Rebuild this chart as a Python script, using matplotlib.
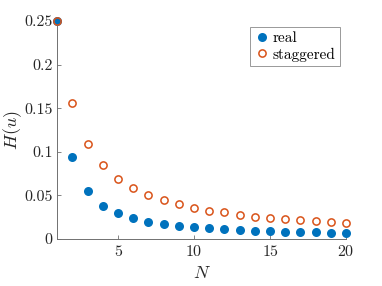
import numpy as np
import matplotlib
matplotlib.use('Agg')
import matplotlib.pyplot as plt

plt.rcParams['font.family'] = 'serif'
plt.rcParams['font.serif'] = ['cmr10', 'DejaVu Serif']
plt.rcParams['mathtext.fontset'] = 'cm'
plt.rcParams['axes.formatter.use_mathtext'] = True

N = np.arange(1, 21)
real = [0.25, 0.0937, 0.0547, 0.0382, 0.0295, 0.0237, 0.0199, 0.0172, 0.0149, 0.0134,
        0.0123, 0.0111, 0.0103, 0.0095, 0.0091, 0.0085, 0.0080, 0.0076, 0.0071, 0.0066]
staggered = [0.25, 0.156, 0.109, 0.0845, 0.0688, 0.0581, 0.0505, 0.0444, 0.0398, 0.0359,
             0.0326, 0.0305, 0.0279, 0.0257, 0.0241, 0.0227, 0.0214, 0.0203, 0.0195, 0.0187]

fig = plt.figure(figsize=(3.82, 2.86), dpi=100)
ax = fig.add_axes([0.15, 0.164, 0.756, 0.763])

ax.plot(N, real, 'o', color='#0072BD', markersize=6.5, markeredgewidth=0,
        label='real', clip_on=False, zorder=3)
ax.plot(N, staggered, 'o', markerfacecolor='none', markeredgecolor='#D95319',
        markersize=5.2, markeredgewidth=1.1, label='staggered', clip_on=False, zorder=3)

ax.set_xlim(1, 20)
ax.set_ylim(0, 0.25)
ax.set_xticks([5, 10, 15, 20])
ax.set_yticks([0, 0.05, 0.1, 0.15, 0.2, 0.25])
ax.set_yticklabels(['0', '0.05', '0.1', '0.15', '0.2', '0.25'])

for s in ['top', 'right']:
    ax.spines[s].set_visible(False)
for s in ['left', 'bottom']:
    ax.spines[s].set_color('#707070')
    ax.spines[s].set_linewidth(0.7)
ax.tick_params(direction='in', length=3, width=0.6, color='#707070',
               labelsize=11.5, labelcolor='#262626')

ax.set_xlabel('$N$', fontsize=13, color='#262626')
ax.set_ylabel('$H(u)$', fontsize=13, color='#262626')
ax.yaxis.set_label_coords(-0.115, 0.5)

leg = ax.legend(loc='upper right', bbox_to_anchor=(0.979, 0.972), borderaxespad=0,
                fontsize=11, fancybox=False, edgecolor='#808080', handletextpad=0.2,
                handlelength=1.0, borderpad=0.3, labelspacing=0.15)
leg.get_frame().set_linewidth(0.7)

plt.savefig('out.png', dpi=100)
